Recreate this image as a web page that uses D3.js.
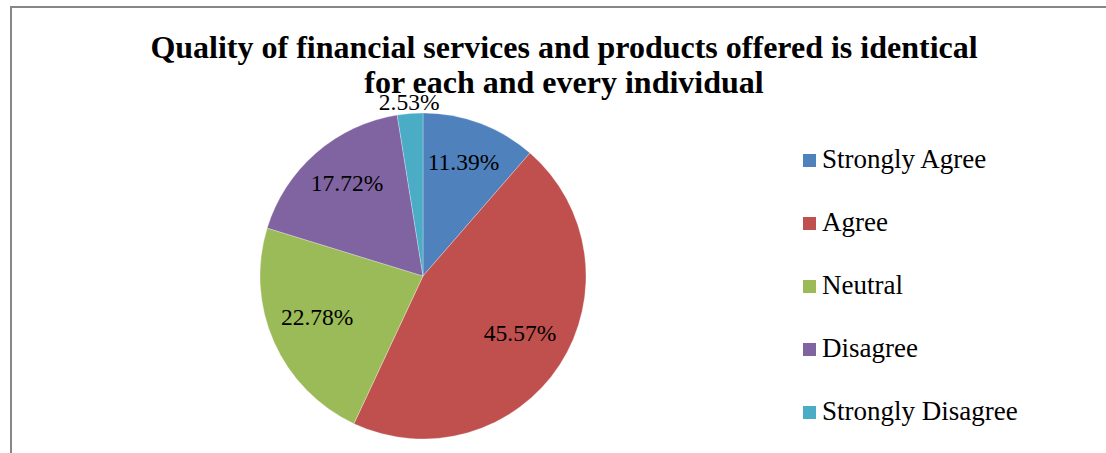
<!DOCTYPE html>
<html>
<head>
<meta charset="utf-8">
<script src="https://cdn.jsdelivr.net/npm/d3@7/dist/d3.min.js"></script>
<style>
  html, body { margin: 0; padding: 0; background: #fff; }
  svg { display: block; font-family: "Liberation Serif", "Times New Roman", serif; }
</style>
</head>
<body>
<svg id="chart" width="1106" height="453"></svg>
<script>
// Survey responses
const categories = ["Strongly Agree", "Agree", "Neutral", "Disagree", "Strongly Disagree"];
const shares = [11.39, 45.57, 22.78, 17.72, 2.53];
const colors = ["#4F81BD", "#C0504D", "#9BBB59", "#8064A2", "#4BACC6"];
const titleLines = [
  "Quality of financial services and products offered is identical",
  "for each and every individual"
];

const svg = d3.select("#chart");

// chart frame (runs off the right and bottom edges)
svg.append("rect")
  .attr("x", 11).attr("y", 7)
  .attr("width", 1110).attr("height", 470)
  .attr("fill", "#fff")
  .attr("stroke", "#878787")
  .attr("stroke-width", 2);

// title
svg.append("g").selectAll("text")
  .data(titleLines)
  .join("text")
  .attr("x", 564)
  .attr("y", (d, i) => 58 + i * 35)
  .attr("text-anchor", "middle")
  .attr("font-weight", "bold")
  .attr("font-size", 32)
  .attr("fill", "#000")
  .text(d => d);

// pie
const cx = 423, cy = 276, r = 163;
const color = d3.scaleOrdinal().domain(categories).range(colors);
const pie = d3.pie().value(d => d.v).sort(null);
const arcs = pie(categories.map((c, i) => ({ c, v: shares[i] })));
const arc = d3.arc().innerRadius(0).outerRadius(r);
const labelArc = d3.arc().innerRadius(r * 0.71).outerRadius(r * 0.71);
const outerLabelArc = d3.arc().innerRadius(r + 12).outerRadius(r + 12);

const g = svg.append("g").attr("transform", `translate(${cx},${cy})`);
g.selectAll("path")
  .data(arcs)
  .join("path")
  .attr("d", arc)
  .attr("fill", d => color(d.data.c))
  .attr("stroke", "rgba(255,255,255,0.35)")
  .attr("stroke-width", 0.8);

g.selectAll("text")
  .data(arcs)
  .join("text")
  .attr("transform", d => {
    const p = d.data.v < 5 ? outerLabelArc.centroid(d) : labelArc.centroid(d);
    return `translate(${p[0]},${p[1]})`;
  })
  .attr("text-anchor", "middle")
  .attr("dy", d => d.data.v < 5 ? "0.35em" : "0.1em")
  .attr("font-size", 23.5)
  .attr("fill", "#000")
  .text(d => d.data.v.toFixed(2) + "%");

// legend
const legend = svg.append("g");
const rows = legend.selectAll("g")
  .data(categories)
  .join("g")
  .attr("transform", (d, i) => `translate(803,${154 + i * 63})`);
rows.append("rect")
  .attr("width", 13).attr("height", 13)
  .attr("fill", d => color(d));
rows.append("text")
  .attr("x", 19).attr("y", 14)
  .attr("font-size", 27)
  .attr("fill", "#000")
  .text(d => d);
</script>
</body>
</html>
